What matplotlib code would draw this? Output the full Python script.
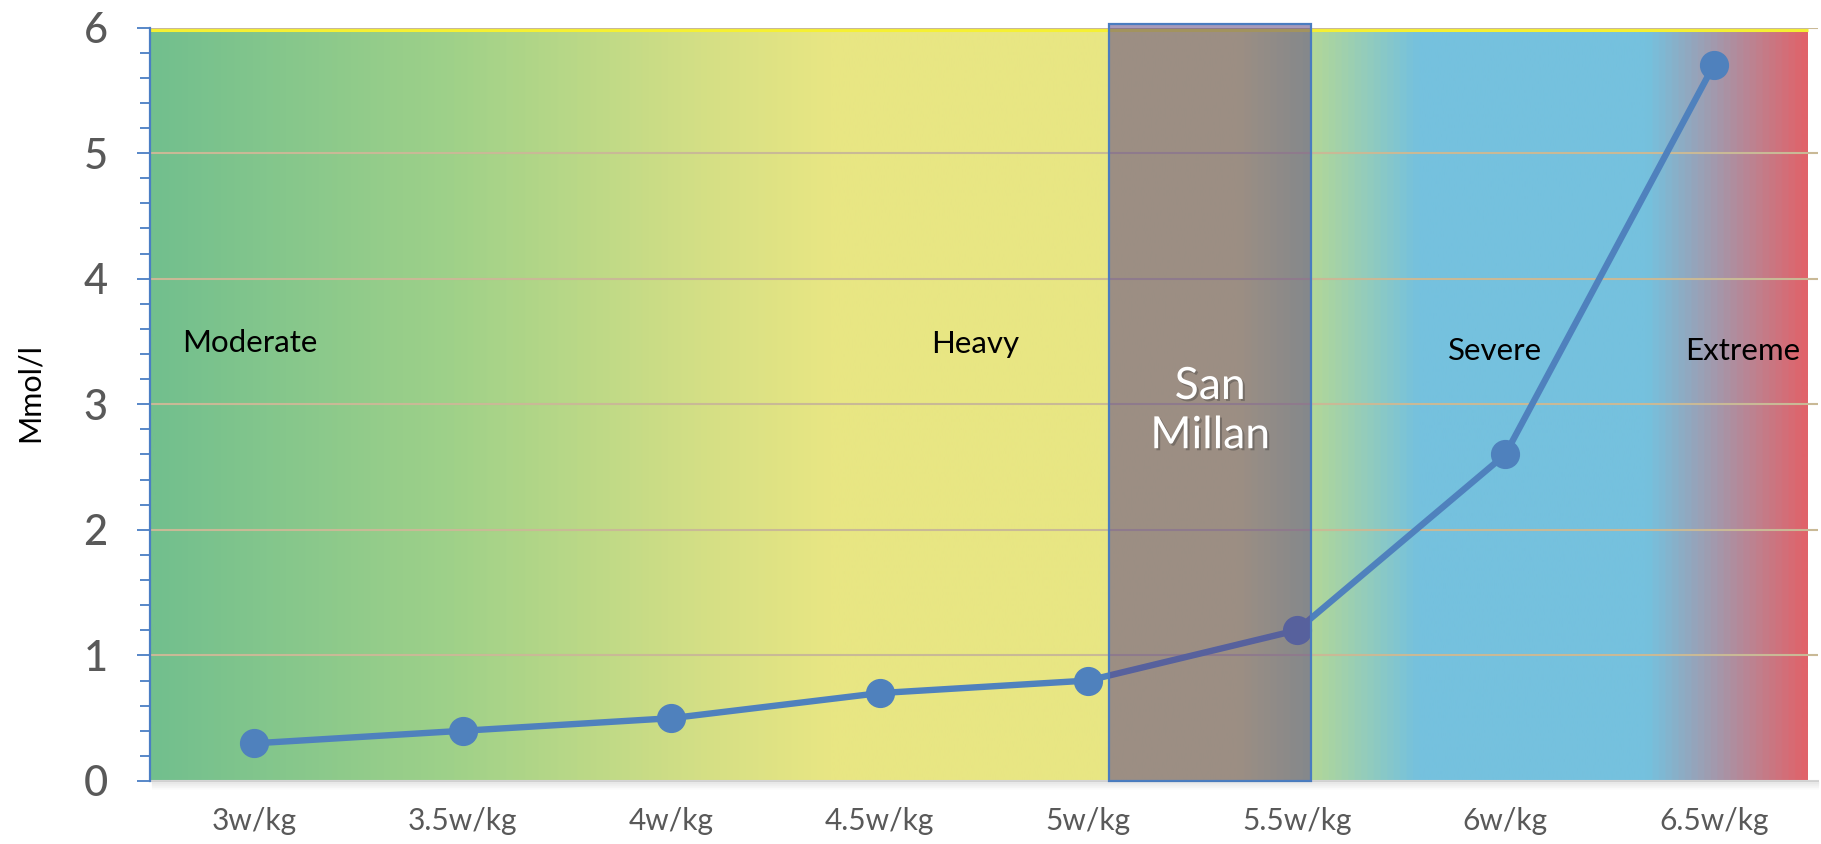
import numpy as np
import matplotlib
matplotlib.use("Agg")
import matplotlib.pyplot as plt
from matplotlib.colors import LinearSegmentedColormap
from matplotlib.patches import Rectangle
from matplotlib.ticker import MultipleLocator
import matplotlib.patheffects as pe

# ---- data ----
categories = ["3w/kg", "3.5w/kg", "4w/kg", "4.5w/kg", "5w/kg", "5.5w/kg", "6w/kg", "6.5w/kg"]
lactate = [0.3, 0.4, 0.5, 0.7, 0.8, 1.2, 2.6, 5.7]

zone_names = ["Moderate", "Heavy", "Severe", "Extreme"]
zone_x = [-0.02, 3.46, 5.95, 7.14]
zone_y = [3.42, 3.41, 3.35, 3.35]

highlight_label = "San\nMillan"
highlight_span = (4.10, 5.07)

# ---- styling ----
plt.rcParams["font.family"] = ["Lato", "DejaVu Sans"]
W, H = 1821, 844
fig = plt.figure(figsize=(W / 100, H / 100), dpi=100)
ax = fig.add_axes([150 / W, 63 / H, 1668 / W, 753.5 / H])

n = len(categories)
x = np.arange(n)
ax.set_xlim(-0.5, n - 0.5)
ax.set_ylim(0, 6)

# intensity-zone gradient behind the plot
stops = [
    (0.000, (114, 191, 142)),
    (0.181, (159, 209, 137)),
    (0.332, (212, 223, 133)),
    (0.410, (232, 230, 131)),
    (0.657, (232, 230, 131)),
    (0.700, (180, 216, 150)),
    (0.766, (117, 193, 222)),
    (0.905, (117, 193, 222)),
    (1.000, (224, 99, 106)),
]
cmap = LinearSegmentedColormap.from_list(
    "zones", [(p, tuple(c / 255 for c in rgb)) for p, rgb in stops])
grad = np.linspace(0, 1, 1024).reshape(1, -1)
x_end = -0.5 + 1658 / 208.5
y_top = 5.98
ax.imshow(grad, cmap=cmap, aspect="auto", extent=(-0.5, x_end, 0, y_top),
          interpolation="bilinear", zorder=0)
ax.plot([-0.5, x_end], [y_top, y_top], color="#F5F032", lw=2.2, zorder=0.5,
        solid_capstyle="butt")

# gridlines
for yv in range(1, 7):
    ax.axhline(yv, color="#C9B996", lw=1.5, zorder=1)

# lactate curve
ax.plot(x, lactate, color="#4F81BD", lw=4.6, marker="o", markersize=20,
        markerfacecolor="#4F81BD", markeredgecolor="#4F81BD", zorder=2,
        solid_capstyle="round")

# highlighted San Millan band
ax.add_patch(Rectangle((highlight_span[0], 0), highlight_span[1] - highlight_span[0], 6.03,
                       facecolor=(94 / 255, 71 / 255, 132 / 255, 0.55),
                       edgecolor="#4A7CC0", lw=1.6, zorder=3, clip_on=False))
ax.text(sum(highlight_span) / 2, 2.65, highlight_label, color="white",
        fontsize=32, ha="center", va="baseline", linespacing=1.25, zorder=5,
        path_effects=[pe.withSimplePatchShadow(offset=(1.5, -1.5), shadow_rgbFace="#333333",
                                               alpha=0.35)])

# zone labels
for name, zx, zy in zip(zone_names, zone_x, zone_y):
    ax.text(zx, zy, name, color="black", fontsize=22.5, ha="center", va="baseline", zorder=5)

# axes styling
for s in ["top", "right"]:
    ax.spines[s].set_visible(False)
ax.spines["left"].set_color("#4A7EC4")
ax.spines["left"].set_linewidth(1.6)
ax.spines["left"].set_zorder(4)
ax.spines["bottom"].set_color("#D4D4D4")
ax.spines["bottom"].set_linewidth(1.5)

ax.yaxis.set_major_locator(MultipleLocator(1))
ax.yaxis.set_minor_locator(MultipleLocator(0.2))
ax.tick_params(axis="y", which="major", length=9.5, width=1.3, color="#4A7EC4",
               labelsize=30, labelcolor="#595959", pad=21)
ax.tick_params(axis="y", which="minor", length=7, width=1.3, color="#4A7EC4")
for lbl in ax.get_yticklabels():
    lbl.set_fontweight("medium")
ax.set_xticks(x)
ax.set_xticklabels(categories)
ax.tick_params(axis="x", length=0, labelsize=21.5, labelcolor="#595959", pad=19)

fig.text(30 / W, 1 - 393 / H, "Mmol/l", rotation=90, fontsize=22, color="black",
         ha="center", va="center")

# soft shadow below the plot area
for i in range(8):
    fig.add_artist(plt.Line2D([152 / W, 1818 / W], [1 - (782 + i) / H] * 2,
                              color="black", alpha=0.07 * (1 - i / 8), lw=1,
                              transform=fig.transFigure))

fig.savefig("out.png", dpi=100)
